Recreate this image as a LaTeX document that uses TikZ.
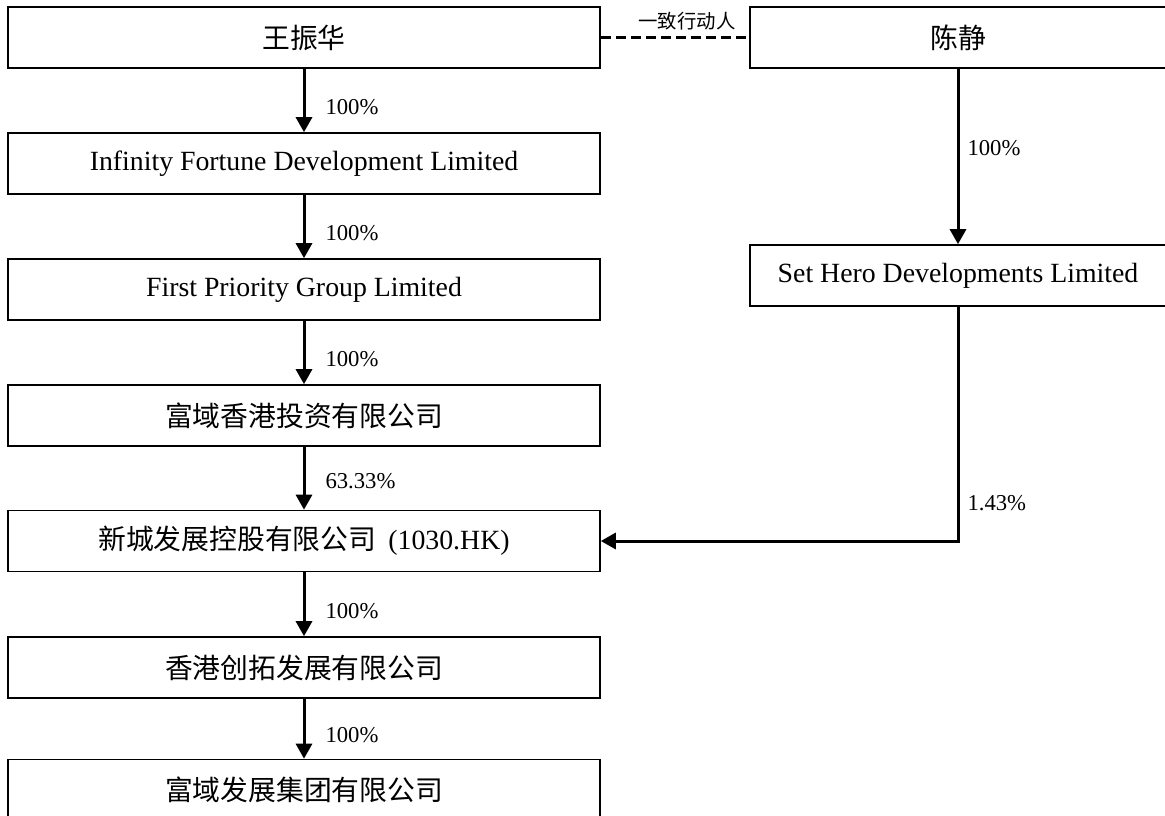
\documentclass[tikz,border=0pt]{standalone}
\usepackage{fontspec}
\setmainfont{Liberation Serif}
\newfontfamily\cjk{Noto Sans CJK SC}
\usetikzlibrary{arrows.meta}
\begin{document}
\begin{tikzpicture}[x=1pt,y=-1pt,
  box/.style={draw=black, line width=1.6pt, minimum height=61pt, inner sep=0pt, font=\fontsize{27.8}{32}\selectfont},
  lbox/.style={box, minimum width=592pt},
  rbox/.style={box, minimum width=416pt},
  arr/.style={line width=3pt, -{Triangle[length=15pt,width=16pt]}},
  pct/.style={font=\fontsize{22.7}{26}\selectfont, anchor=west, inner sep=0pt},
]
\useasboundingbox (0,0) rectangle (1165,816);
\fill[white] (0,0) rectangle (1165,816);
\clip (0,0) rectangle (1165,816);
\node[lbox] (a) at (304,37.5) {\cjk 王振华};
\node[lbox] (b) at (304,163.5) {Infinity Fortune Development Limited};
\node[lbox] (c) at (304,289.5) {First Priority Group Limited};
\node[lbox] (d) at (304,415.5) {\cjk 富域香港投资有限公司};
\node[lbox] (e) at (304,541) {{\cjk 新城发展控股有限公司}\hspace{12pt}(1030.HK)};
\node[lbox] (f) at (304,667.5) {\cjk 香港创拓发展有限公司};
\node[lbox] (g) at (304,790) {\cjk 富域发展集团有限公司};
\node[rbox] (h) at (958,37.5) {\cjk 陈静};
\node[rbox] (i) at (958,275.5) {Set Hero Developments Limited};

\draw[arr] (a) -- node[pct, pos=0.6, xshift=20pt] {100\%} (b);
\draw[arr] (b) -- node[pct, pos=0.6, xshift=20pt] {100\%} (c);
\draw[arr] (c) -- node[pct, pos=0.6, xshift=20pt] {100\%} (d);
\draw[arr] (d) -- node[pct, pos=0.55, xshift=20pt] {63.33\%} (e);
\draw[arr] (e) -- node[pct, pos=0.6, xshift=20pt] {100\%} (f);
\draw[arr] (f) -- node[pct, pos=0.6, xshift=20pt] {100\%} (g);
\draw[arr] (h) -- node[pct, pos=0.45, xshift=8pt] {100\%} (i);
\draw[arr] (i.south) |- node[pct, pos=0.42, xshift=8pt] {1.43\%} (e.east);
\draw[line width=2.6pt, dash pattern=on 10pt off 5pt] (a.east) -- node[font=\fontsize{19.4}{22}\selectfont, inner sep=0pt, yshift=16pt, xshift=12pt] {\cjk 一致行动人} (h.west);
\end{tikzpicture}
\end{document}
